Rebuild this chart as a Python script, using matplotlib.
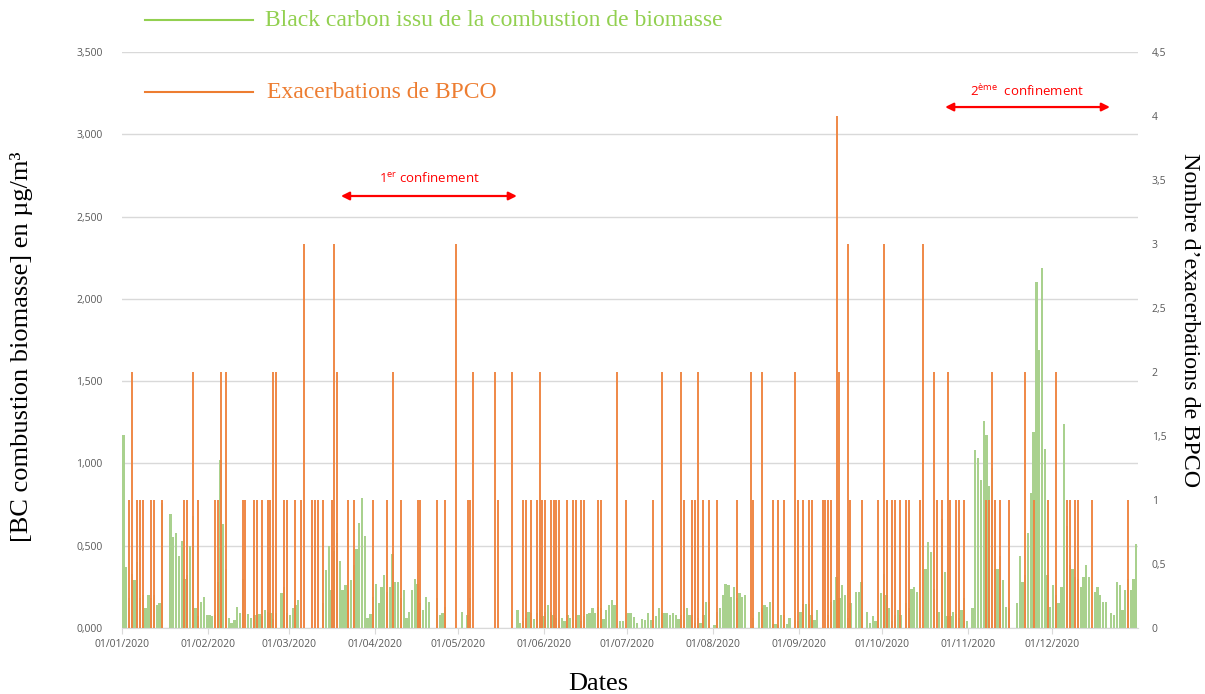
import numpy as np
import matplotlib
matplotlib.use("Agg")
import matplotlib.pyplot as plt
from matplotlib.lines import Line2D

# Daily black carbon from biomass burning (µg/m³), one list per month of 2020
bc_jan = [1.17, 0.37, 0.18, 0.33, 0.29, 0.40, 0.18, 0.20, 0.12, 0.20, 0.18, 0.20, 0.14, 0.15, 0.76, 0, 0,
          0.69, 0.55, 0.58, 0.44, 0.53, 0.30, 0.32, 0.50, 0.68, 0.12, 0.07, 0.16, 0.19, 0.08]
bc_feb = [0.08, 0.07, 0.08, 0.28, 1.02, 0.63, 0.36, 0.06, 0.03, 0.05, 0.13, 0.09, 0.30, 0, 0.085, 0.06,
          0.08, 0.08, 0.085, 0.07, 0.11, 0.10, 0.09, 0.055, 0.09, 0.0, 0.21, 0.25, 0.09]
bc_mar = [0.08, 0.12, 0.14, 0.17, 0, 0, 0, 0, 0, 0, 0, 0, 0.15, 0.35, 0.50, 0.23, 0.47, 0.58, 0.41,
          0.23, 0.26, 0.23, 0.29, 0.38, 0.48, 0.64, 0.79, 0.56, 0.06, 0.085, 0.19]
bc_apr = [0.27, 0.15, 0.25, 0.32, 0.22, 0.25, 0.45, 0.28, 0.28, 0.18, 0.23, 0.06, 0.10, 0.23, 0.30,
          0.27, 0.15, 0.11, 0.19, 0.16, 0, 0, 0.18, 0.08, 0.09, 0.13, 0, 0, 0, 0]
bc_may = [0, 0.10, 0, 0.08, 0.18, 0, 0, 0, 0, 0, 0, 0, 0, 0, 0, 0, 0, 0, 0, 0, 0, 0.11, 0.03, 0.04,
          0.06, 0.10, 0.09, 0.055, 0.09, 0.11, 0.07]
bc_jun = [0.095, 0.14, 0.10, 0.08, 0.06, 0.05, 0.06, 0.04, 0.08, 0.06, 0.11, 0.05, 0.08, 0.04, 0.07,
          0.085, 0.09, 0.12, 0.09, 0.13, 0.12, 0.055, 0.11, 0.14, 0.17, 0.14, 0, 0.045, 0.045, 0]
bc_jul = [0.09, 0.09, 0.065, 0.03, 0, 0.055, 0.05, 0.09, 0.05, 0, 0.07, 0.12, 0.09, 0.09, 0.09, 0.08,
          0.09, 0.08, 0.055, 0.08, 0.05, 0.12, 0.08, 0.08, 0.03, 0.06, 0.03, 0.08, 0.16, 0.16, 0]
bc_aug = [0.02, 0.10, 0.12, 0.20, 0.27, 0.26, 0.19, 0.25, 0.18, 0.21, 0.19, 0.20, 0, 0, 0.06, 0, 0.10,
          0.12, 0.14, 0.13, 0.155, 0.025, 0.025, 0.02, 0.08, 0.08, 0.025, 0.06, 0, 0.05, 0.04]
bc_sep = [0.10, 0.145, 0.145, 0.145, 0.08, 0.05, 0.11, 0, 0, 0, 0.08, 0.16, 0.17, 0.31, 0.18, 0.26,
          0.20, 0.06, 0.15, 0, 0.22, 0.22, 0.28, 0, 0.10, 0.03, 0.07, 0.04, 0.05, 0.21]
bc_oct = [0.33, 0.20, 0.12, 0.04, 0.08, 0.11, 0.08, 0, 0.15, 0.12, 0.24, 0.25, 0.22, 0, 0, 0.36, 0.52,
          0.46, 0.24, 0, 0.10, 0.66, 0.34, 0.07, 0.07, 0.10, 0.085, 0.06, 0.11, 0.18, 0.04]
bc_nov = [0, 0.12, 1.08, 1.03, 0.90, 1.26, 1.17, 0.86, 0.97, 0.36, 0.36, 0.44, 0.29, 0.13, 0.12, 0, 0,
          0.15, 0.44, 0.28, 0.32, 0.58, 0.82, 1.19, 2.10, 1.69, 2.19, 1.09, 0.32, 0.13]
bc_dec = [0.26, 0.20, 0.15, 0.25, 1.24, 0.62, 0.38, 0.36, 0.31, 0.30, 0.25, 0.31, 0.38, 0.31, 0, 0.22,
          0.25, 0.20, 0.16, 0.16, 0, 0.09, 0.08, 0.28, 0.26, 0.11, 0.23, 0.30, 0.23, 0.30, 0.51]

# COPD exacerbations: day of year (0 = 1 January 2020) and number of cases
exac_day = [2, 3, 5, 6, 7, 10, 11, 14, 22, 23, 25, 27, 33, 34, 35, 37, 43, 44, 47, 48, 50, 52, 53, 54,
            55, 58, 59, 62, 64, 65, 68, 69, 70, 72, 75, 76, 77, 81, 83, 90, 95, 97, 100, 106, 107, 113,
            116, 120, 124, 125, 126, 134, 135, 140, 144, 145, 147, 149, 150, 151, 152, 154, 155, 156,
            157, 160, 162, 163, 165, 166, 171, 172, 178, 181, 191, 194, 201, 202, 205, 206, 207, 209,
            211, 214, 221, 226, 227, 230, 234, 236, 238, 242, 243, 245, 247, 248, 252, 253, 254, 255,
            257, 258, 261, 262, 266, 272, 274, 275, 277, 278, 280, 282, 283, 287, 288, 292, 293, 295,
            297, 298, 300, 301, 303, 311, 312, 313, 314, 316, 319, 325, 328, 333, 336, 340, 341, 343,
            344, 349, 362]
exac_count = [1, 2, 1, 1, 1, 1, 1, 1, 1, 1, 2, 1, 1, 1, 2, 2, 1, 1, 1, 1, 1, 1, 1, 2,
              2, 1, 1, 1, 1, 3, 1, 1, 1, 1, 1, 3, 2, 1, 1, 1, 1, 2, 1, 1, 1, 1,
              1, 3, 1, 1, 2, 2, 1, 2, 1, 1, 1, 1, 2, 1, 1, 1, 1, 1,
              1, 1, 1, 1, 1, 1, 1, 1, 2, 1, 1, 2, 2, 1, 1, 1, 2, 1,
              1, 1, 1, 2, 1, 2, 1, 1, 1, 2, 1, 1, 1, 1, 1, 1, 1, 1,
              4, 2, 3, 1, 1, 1, 3, 1, 1, 1, 1, 1, 1, 1, 3, 2, 1, 1,
              2, 1, 1, 1, 1, 1, 1, 2, 1, 1, 1, 2, 1, 1, 2, 1, 1, 1,
              1, 1, 1]

month_start = [0, 31, 60, 91, 121, 152, 182, 213, 244, 274, 305, 335]
month_labels = ["01/01/2020", "01/02/2020", "01/03/2020", "01/04/2020", "01/05/2020", "01/06/2020",
                "01/07/2020", "01/08/2020", "01/09/2020", "01/10/2020", "01/11/2020", "01/12/2020"]

# Lockdown periods (day of year) for the arrows
lockdown1 = (78.9, 142.3)
lockdown2 = (296.6, 356.0)

GREEN = "#a9d18e"
GREEN_TXT = "#92d050"
ORANGE = "#ed7d31"
GREY = "#595959"
GRID = "#d9d9d9"
SERIF = "Liberation Serif"
SANS = "Open Sans"

plt.rcParams["mathtext.fontset"] = "custom"
plt.rcParams["mathtext.rm"] = SANS

bc = np.array(bc_jan + bc_feb + bc_mar + bc_apr + bc_may + bc_jun + bc_jul + bc_aug + bc_sep
              + bc_oct + bc_nov + bc_dec)
days = np.arange(len(bc))

W, H = 1205, 694
fig = plt.figure(figsize=(W / 100, H / 100), dpi=100)
x0, x1, y_top, y_bot = 122, 1137.7, 52, 628
ax = fig.add_axes([x0 / W, 1 - y_bot / H, (x1 - x0) / W, (y_bot - y_top) / H])
ax2 = ax.twinx()

ax.bar(days + 0.5, bc, width=0.82, color=GREEN, linewidth=0, zorder=2)
ax2.vlines(np.array(exac_day) + 0.5, 0, exac_count, color="#ef8440", linewidth=1.35, zorder=3)

ax.set_xlim(0, len(bc))
ax.set_ylim(0, 3.5)
ax2.set_ylim(0, 4.5)

left_ticks = np.arange(0, 3.51, 0.5)
ax.set_yticks(left_ticks)
ax.set_yticklabels([f"{v:.3f}".replace(".", ",") for v in left_ticks])
right_ticks = np.arange(0, 4.51, 0.5)
ax2.set_yticks(right_ticks)
ax2.set_yticklabels([(f"{v:g}").replace(".", ",") for v in right_ticks])

ax.set_xticks(month_start)
ax.set_xticklabels(month_labels)

ax.yaxis.grid(True, color=GRID, linewidth=1)
ax.set_axisbelow(True)

for a in (ax, ax2):
    for s in ("top", "left", "right"):
        a.spines[s].set_visible(False)
    a.spines["bottom"].set_color(GRID)
ax2.spines["bottom"].set_visible(False)

ax.tick_params(axis="y", length=0, pad=14, labelsize=7.5, labelcolor=GREY)
ax2.tick_params(axis="y", length=0, pad=10, labelsize=7.5, labelcolor=GREY)
ax.tick_params(axis="x", length=4, color=GRID, pad=4, labelsize=7.5, labelcolor=GREY)
for t in ax.get_yticklabels() + ax2.get_yticklabels() + ax.get_xticklabels():
    t.set_family(SANS)

# Axis titles
fig.text(598 / W, 1 - 684 / H, "Dates", ha="center", va="center", family=SERIF, size=19)
fig.text(22 / W, 1 - 347 / H, "[BC combustion biomasse] en µg/m³", rotation=90, ha="center",
         va="center", family=SERIF, size=19)
fig.text(1190 / W, 1 - 320 / H, "Nombre d’exacerbations de BPCO", rotation=270, ha="center",
         va="center", family=SERIF, size=17.3)

# Legend drawn at the top-left
fig.add_artist(Line2D([145 / W, 253 / W], [1 - 20 / H, 1 - 20 / H], color=GREEN_TXT, lw=1.5))
fig.text(265 / W, 1 - 20 / H, "Black carbon issu de la combustion de biomasse", ha="left",
         va="center", family=SERIF, size=17, color=GREEN_TXT)
fig.add_artist(Line2D([145 / W, 253 / W], [1 - 92 / H, 1 - 92 / H], color=ORANGE, lw=1.5))
fig.text(267 / W, 1 - 92 / H, "Exacerbations de BPCO", ha="left", va="center", family=SERIF,
         size=17, color=ORANGE)

# Lockdown arrows
arrow_kw = dict(arrowstyle="<|-|>", color="red", lw=1.6, mutation_scale=12, shrinkA=0, shrinkB=0)
ax2.annotate("", xy=(lockdown1[1], 3.375), xytext=(lockdown1[0], 3.375), arrowprops=arrow_kw,
             zorder=5, annotation_clip=False)
ax2.text(sum(lockdown1) / 2, 3.484, r"1$^{\mathrm{er}}$ confinement", ha="center", va="baseline",
         color="red", family=SANS, size=9.5)
ax2.annotate("", xy=(lockdown2[1], 4.07), xytext=(lockdown2[0], 4.07), arrowprops=arrow_kw,
             zorder=5, annotation_clip=False)
ax2.text(sum(lockdown2) / 2, 4.155, r"2$^{\mathrm{ème}}$  confinement", ha="center", va="baseline",
         color="red", family=SANS, size=9.5, clip_on=False)

fig.savefig("out.png", dpi=100)
